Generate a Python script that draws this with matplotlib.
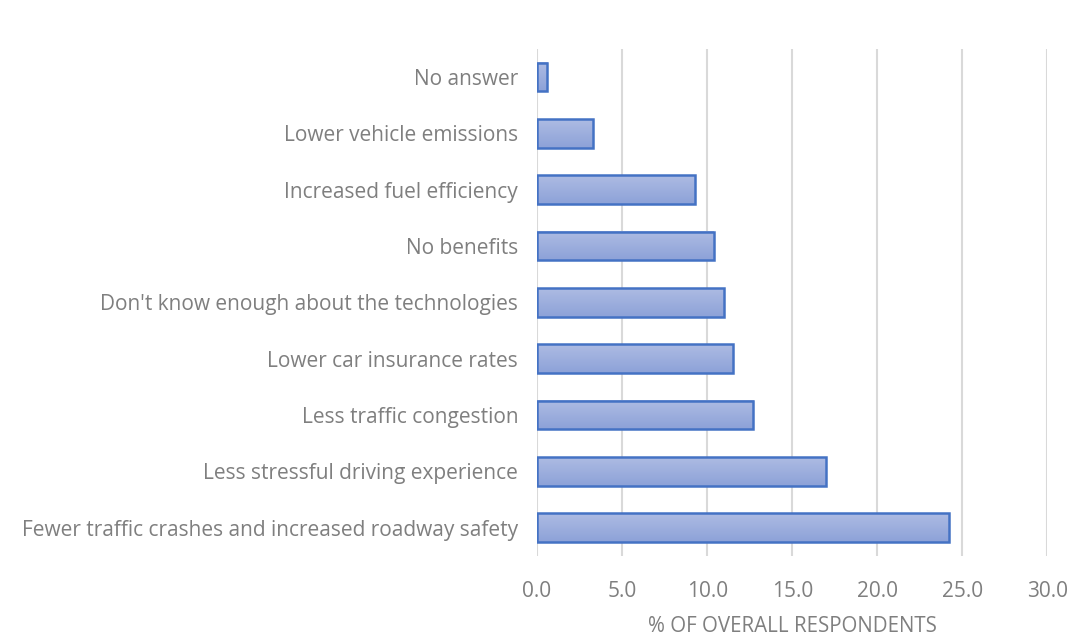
import matplotlib.pyplot as plt
import numpy as np
from matplotlib.colors import LinearSegmentedColormap

# data (top to bottom as shown)
categories = [
    "No answer",
    "Lower vehicle emissions",
    "Increased fuel efficiency",
    "No benefits",
    "Don't know enough about the technologies",
    "Lower car insurance rates",
    "Less traffic congestion",
    "Less stressful driving experience",
    "Fewer traffic crashes and increased roadway safety",
]
values = [0.6, 3.3, 9.3, 10.4, 11.0, 11.5, 12.7, 17.0, 24.2]

x_ticks = [0, 5, 10, 15, 20, 25, 30]

plt.rcParams['font.family'] = ['Open Sans', 'DejaVu Sans']
txt_color = "#7f7f7f"

fig = plt.figure(figsize=(10.71, 6.36), dpi=100)
ax = fig.add_axes([0.5014, 0.126, 0.4766, 0.797])

y = np.arange(len(categories))
h = 0.51

# gradient fill like the office-style bars (lighter at top)
grad_cmap = LinearSegmentedColormap.from_list("barfill", ["#8da2d8", "#adbbe3"])
grad = np.linspace(0, 1, 64).reshape(-1, 1)
for yi, v in zip(y, values):
    ax.imshow(grad, extent=[0, v, yi + h / 2, yi - h / 2], cmap=grad_cmap,
              aspect="auto", origin="lower", zorder=2)
ax.barh(y, values, height=h, facecolor="none", edgecolor="#4472c4", linewidth=1.8, zorder=3)

ax.set_ylim(len(categories) - 0.5, -0.5)
ax.set_xlim(0, 30)
ax.set_yticks(y)
ax.set_yticklabels(categories, fontsize=15, color=txt_color)
ax.set_xticks(x_ticks)
ax.set_xticklabels([f"{t:.1f}" for t in x_ticks], fontsize=15, color=txt_color)
ax.tick_params(length=0)
ax.tick_params(axis="y", pad=13.5)
ax.tick_params(axis="x", pad=18)

ax.grid(axis="x", color="#d9d9d9", linewidth=1.5, zorder=0)
for s in ["top", "right", "bottom", "left"]:
    ax.spines[s].set_visible(False)

ax.set_xlabel("% OF OVERALL RESPONDENTS", fontsize=14.8, color=txt_color, labelpad=10)

fig.savefig("out.png", dpi=100)
